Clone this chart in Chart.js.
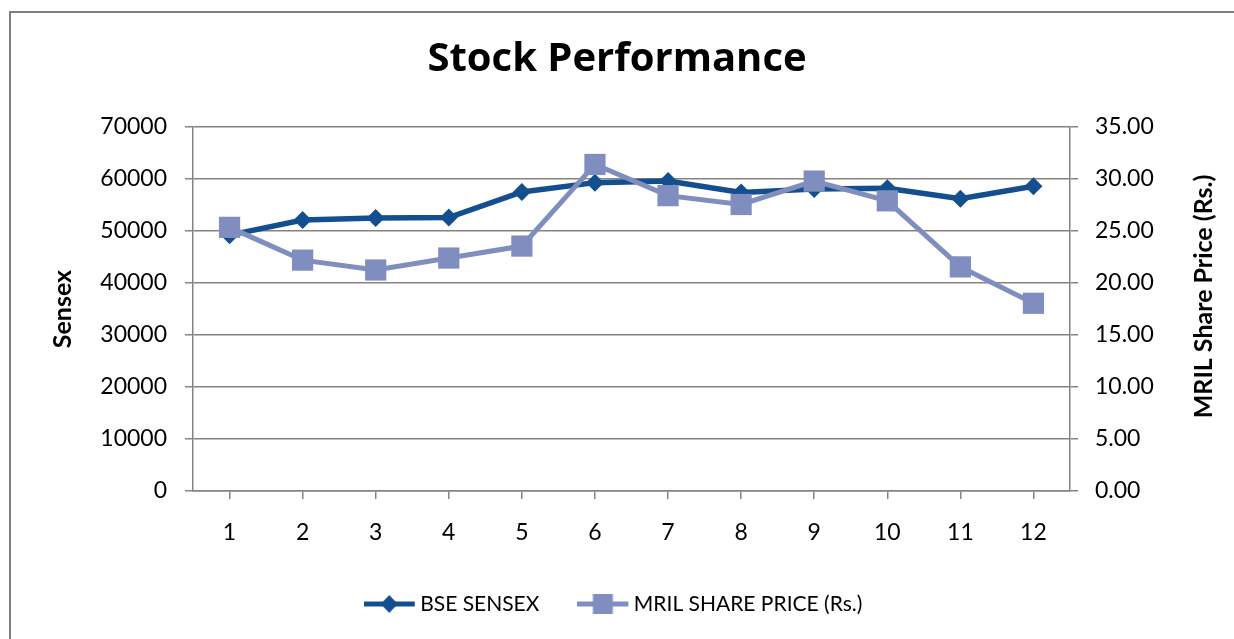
<!DOCTYPE html>
<html>
<head>
<meta charset="utf-8">
<title>Stock Performance</title>
<script src="https://cdn.jsdelivr.net/npm/chart.js@4.4.1/dist/chart.umd.min.js"></script>
<style>
  html, body { margin: 0; padding: 0; background: #fff; overflow: hidden; }
  #frame {
    position: absolute; left: 9px; top: 11px; width: 1400px; height: 800px;
    border-left: 2px solid #857d79; border-top: 2px solid #857d79;
  }
  #chart { position: absolute; left: 0; top: 0; }
</style>
</head>
<body>
<div id="frame"></div>
<canvas id="chart" width="1234" height="639"></canvas>
<script>
// --- Data ---
const months = ["1", "2", "3", "4", "5", "6", "7", "8", "9", "10", "11", "12"];
const sensexValues = [49200, 52100, 52500, 52600, 57500, 59300, 59600, 57400, 58100, 58200, 56200, 58600];
const mrilPrices = [25.35, 22.2, 21.25, 22.4, 23.55, 31.4, 28.4, 27.55, 29.8, 27.9, 21.55, 18.05];
const sensexTicks = [0, 10000, 20000, 30000, 40000, 50000, 60000, 70000];
const priceTicks = [0, 5, 10, 15, 20, 25, 30, 35];

const DARK = "#134f8e";
const LIGHT = "#7f8ebf";
const GRID = "#8a827e";
const FONT = "Lato";

// legend swatch: a short line with the marker on it
function legendSwatch(color, style) {
  const c = document.createElement("canvas");
  c.width = 54;
  c.height = 24;
  const g = c.getContext("2d");
  g.strokeStyle = color;
  g.lineWidth = 5;
  g.beginPath();
  g.moveTo(0, 12);
  g.lineTo(51, 12);
  g.stroke();
  g.fillStyle = color;
  g.beginPath();
  if (style === "diamond") {
    g.moveTo(25.5, 3); g.lineTo(34, 12); g.lineTo(25.5, 21); g.lineTo(17, 12);
  } else {
    g.rect(15.5, 2, 20, 20);
  }
  g.closePath();
  g.fill();
  return c;
}

const swatches = [legendSwatch(DARK, "diamond"), legendSwatch(LIGHT, "square")];

// right axis title reads bottom-to-top like the left one
const rightTitle = {
  id: "rightTitle",
  afterDraw(chart) {
    const { ctx, chartArea } = chart;
    ctx.save();
    ctx.translate(chartArea.right + 134, (chartArea.top + chartArea.bottom) / 2 - 12.5);
    ctx.rotate(-Math.PI / 2);
    ctx.font = "bold 25px " + FONT;
    ctx.fillStyle = "#000";
    ctx.textAlign = "center";
    ctx.textBaseline = "middle";
    ctx.fillText("MRIL Share Price (Rs.)", 0, 0);
    ctx.restore();
  }
};

new Chart(document.getElementById("chart"), {
  type: "line",
  data: {
    labels: months,
    datasets: [
      {
        label: "BSE SENSEX",
        data: sensexValues,
        yAxisID: "y",
        borderColor: DARK,
        backgroundColor: DARK,
        borderWidth: 5.5,
        pointStyle: "rectRot",
        pointRadius: 9,
        pointBorderWidth: 0,
        pointBackgroundColor: DARK,
        tension: 0,
        order: 1
      },
      {
        label: "MRIL SHARE PRICE (Rs.)",
        data: mrilPrices,
        yAxisID: "y1",
        borderColor: LIGHT,
        backgroundColor: LIGHT,
        borderWidth: 5,
        pointStyle: "rect",
        pointRadius: 15,
        pointBorderWidth: 0,
        pointBackgroundColor: LIGHT,
        tension: 0,
        order: 0
      }
    ]
  },
  plugins: [rightTitle],
  options: {
    responsive: false,
    animation: false,
    devicePixelRatio: 1,
    layout: { padding: { left: 0, right: 0, top: 0, bottom: 14.5 } },
    plugins: {
      tooltip: { enabled: false },
      title: {
        display: true,
        text: "Stock Performance",
        color: "#000",
        font: { family: "Open Sans", size: 40, weight: "bold" },
        padding: { top: 36, bottom: 43 }
      },
      legend: {
        position: "bottom",
        labels: {
          color: "#000",
          font: { family: FONT, size: 21 },
          usePointStyle: true,
          pointStyleWidth: 38,
          padding: 46,
          sort: (a, b) => a.datasetIndex - b.datasetIndex,
          generateLabels: (chart) => {
            const items = Chart.defaults.plugins.legend.labels.generateLabels(chart);
            items.forEach(it => { it.pointStyle = swatches[it.datasetIndex]; });
            return items;
          }
        }
      }
    },
    scales: {
      x: {
        type: "category",
        offset: true,
        grid: { drawOnChartArea: false, drawTicks: true, tickLength: 8, color: GRID, lineWidth: 1.5 },
        border: { display: true, color: GRID, width: 1.5 },
        ticks: { color: "#000", font: { family: FONT, size: 23 }, padding: 20 },
        afterFit: (s) => { s.height = 56.5; }
      },
      y: {
        position: "left",
        min: 0,
        max: 70000,
        afterBuildTicks: (s) => { s.ticks = sensexTicks.map(v => ({ value: v })); },
        grid: { color: GRID, lineWidth: 1.5, tickLength: 8 },
        border: { display: true, color: GRID, width: 1.5 },
        ticks: {
          color: "#000",
          font: { family: FONT, size: 23 },
          padding: 18,
          callback: (v) => String(v)
        },
        title: {
          display: true,
          text: "Sensex",
          color: "#000",
          font: { family: FONT, size: 25, weight: "bold" },
          padding: { top: 48, bottom: 0 }
        },
        afterFit: (s) => { s.width = 193; }
      },
      y1: {
        position: "right",
        min: 0,
        max: 35,
        afterBuildTicks: (s) => { s.ticks = priceTicks.map(v => ({ value: v })); },
        grid: { drawOnChartArea: false, color: GRID, lineWidth: 1.5, tickLength: 8 },
        border: { display: true, color: GRID, width: 1.5 },
        ticks: {
          color: "#000",
          font: { family: FONT, size: 23 },
          padding: 17,
          callback: (v) => Number(v).toFixed(2)
        },
        afterFit: (s) => { s.width = 164; }
      }
    }
  }
});
</script>
</body>
</html>
